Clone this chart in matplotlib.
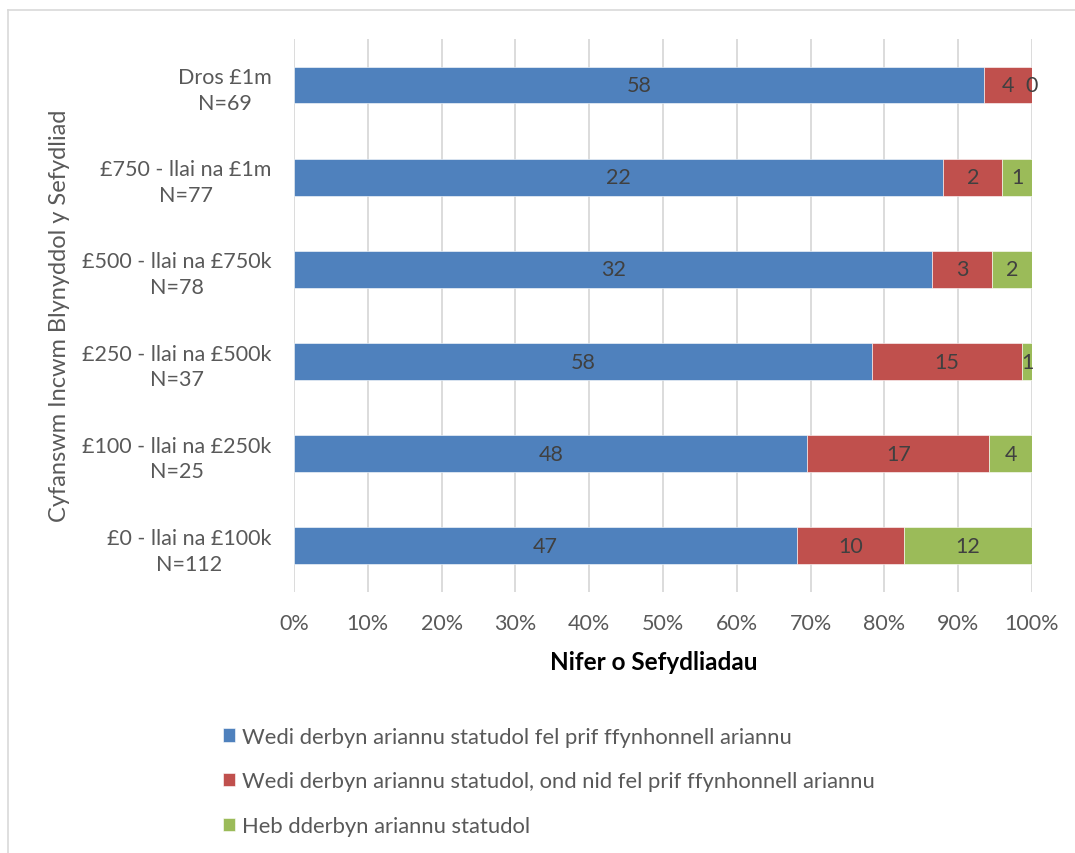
import numpy as np
import matplotlib
matplotlib.use('Agg')
import matplotlib.pyplot as plt
from matplotlib.lines import Line2D
from matplotlib.ticker import FuncFormatter

plt.rcParams['font.family'] = ['Lato', 'DejaVu Sans']

# bandiau incwm, o'r gwaelod i'r brig
categorias = ['£0 - llai na £100k\nN=112', '£100 - llai na £250k\nN=25',
              '£250 - llai na £500k\nN=37', '£500 - llai na £750k\nN=78',
              '£750 - llai na £1m\nN=77', 'Dros £1m\nN=69']
prif = [47, 48, 58, 32, 22, 58]
nid_prif = [10, 17, 15, 3, 2, 4]
heb = [12, 4, 1, 2, 1, 0]

series = ['Wedi derbyn ariannu statudol fel prif ffynhonnell ariannu',
          'Wedi derbyn ariannu statudol, ond nid fel prif ffynhonnell ariannu',
          'Heb dderbyn ariannu statudol']
cores = ['#4F81BD', '#C0504D', '#9BBB59']

texto = '#595959'
fs = 15.5

fig = plt.figure(figsize=(10.75, 8.54), dpi=100)
ax = fig.add_axes([0.2735, 0.3056, 0.6865, 0.6476])

dados = np.array([prif, nid_prif, heb], dtype=float)
totais = dados.sum(axis=0)
fracoes = dados / totais

y = np.arange(len(categorias))
esquerda = np.zeros(len(categorias))
for i in range(3):
    barras = ax.barh(y, fracoes[i], left=esquerda, height=0.4, color=cores[i],
                     edgecolor='white', linewidth=0.4, label=series[i], zorder=3)
    for j, b in enumerate(barras):
        cx = esquerda[j] + fracoes[i][j] / 2
        ax.text(cx, y[j], str(int(dados[i][j])), ha='center', va='center',
                fontsize=fs, color='#404040', zorder=4)
    esquerda += fracoes[i]

ax.set_xlim(0, 1)
ax.set_ylim(-0.5, len(categorias) - 0.5)
ax.set_xticks(np.arange(0, 1.01, 0.1))
ax.xaxis.set_major_formatter(FuncFormatter(lambda v, p: f'{v * 100:.0f}%'))
ax.set_yticks(y)
ax.set_yticklabels(categorias, fontsize=fs, color=texto, ha='right', linespacing=1.35)
ax.tick_params(axis='x', labelsize=fs, colors=texto, length=0, pad=15)
ax.tick_params(axis='y', length=0, pad=16)
for lbl in ax.get_yticklabels():
    lbl.set_multialignment('center')
ax.grid(axis='x', color='#d9d9d9', linewidth=1.3, zorder=0)
for s in ax.spines.values():
    s.set_visible(False)

ax.set_xlabel('Nifer o Sefydliadau', fontsize=17.5, fontweight='bold', color='black',
              labelpad=12, x=0.487)
fig.text(0.055, 0.63, 'Cyfanswm Incwm Blynyddol y Sefydliad', rotation=90,
         ha='center', va='center', fontsize=17, color=texto)

handles, labels = ax.get_legend_handles_labels()
fig.legend(handles, labels, loc='upper left', bbox_to_anchor=(0.199, 0.158),
           frameon=False, fontsize=15.8, labelcolor=texto, handlelength=0.55,
           handleheight=0.55, handletextpad=0.35, labelspacing=1.12,
           borderaxespad=0)

# moldura do gráfico
fig.add_artist(Line2D([8 / 1075, 8 / 1075], [0, 1 - 11 / 854], color='#d9d9d9',
                      linewidth=1.2, transform=fig.transFigure))
fig.add_artist(Line2D([8 / 1075, 1], [1 - 11 / 854, 1 - 11 / 854], color='#d9d9d9',
                      linewidth=1.2, transform=fig.transFigure))

fig.savefig('out.png', dpi=100)
